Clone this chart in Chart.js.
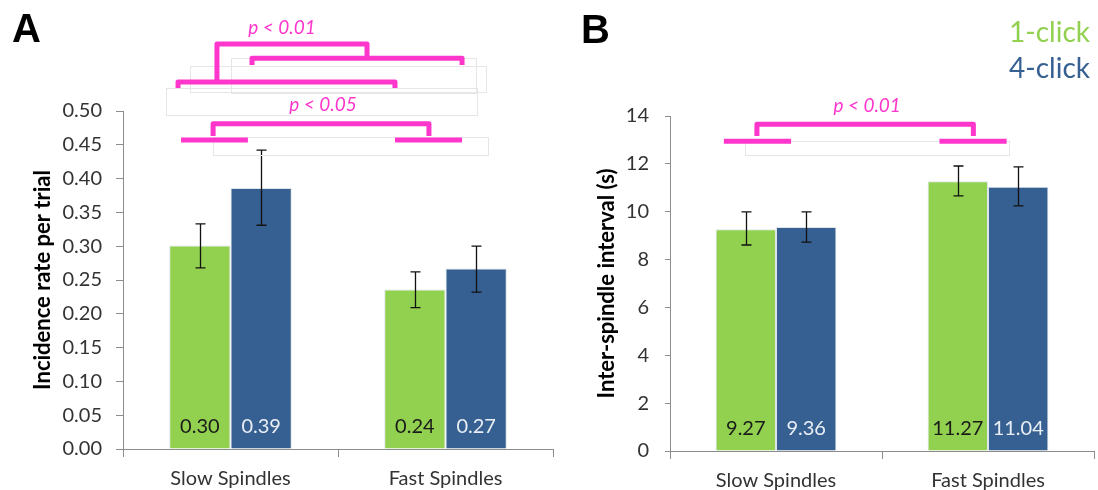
<!DOCTYPE html>
<html>
<head>
<meta charset="utf-8">
<script src="https://cdn.jsdelivr.net/npm/chart.js@4.4.0/dist/chart.umd.min.js"></script>
<style>
    body { margin: 0; background: #fff; width: 1098px; height: 490px; overflow: hidden; position: relative; }
    #chartA { position: absolute; left: 0; top: 0; }
    #chartB { position: absolute; left: 560px; top: 0; }
</style>
</head>
<body>
<canvas id="chartA" width="560" height="490"></canvas>
<canvas id="chartB" width="538" height="490"></canvas>
<script>
// Categories and series
const categories = ["Slow Spindles", "Fast Spindles"];
const seriesNames = ["1-click", "4-click"];

// Panel A: incidence rate per trial
const rateOneClick = [0.301, 0.236];
const rateFourClick = [0.386, 0.267];
const rateOneClickErr = [[0.268, 0.333], [0.209, 0.262]];
const rateFourClickErr = [[0.331, 0.442], [0.232, 0.300]];

// Panel B: inter-spindle interval (s)
const intervalOneClick = [9.27, 11.27];
const intervalFourClick = [9.36, 11.04];
const intervalOneClickErr = [[8.61, 9.99], [10.66, 11.91]];
const intervalFourClickErr = [[8.73, 9.99], [10.24, 11.87]];

// Significance brackets: [category position, value] points
const bracketsA = [
    [[-0.063, 0.546], [-0.063, 0.599], [0.635, 0.599], [0.635, 0.578]],
    [[0.1, 0.568], [0.1, 0.578], [1.077, 0.578], [1.077, 0.568]],
    [[-0.244, 0.534], [-0.244, 0.543], [0.765, 0.543], [0.765, 0.534]],
    [[-0.081, 0.463], [-0.081, 0.481], [0.923, 0.481], [0.923, 0.463]],
    [[-0.23, 0.457], [0.081, 0.457]],
    [[0.765, 0.457], [1.077, 0.457]],
];
const pLabelsA = [["p < 0.01", 0.24, 0.623], ["p < 0.05", 0.43, 0.509]];
const boxesA = [
    [0, 0.578, 1.143, 0.527],
    [-0.188, 0.567, 1.188, 0.528],
    [-0.3, 0.534, 1.147, 0.494],
    [-0.081, 0.4615, 1.198, 0.435],
];
const bracketsB = [
    [[-0.09, 13.16], [-0.09, 13.66], [0.931, 13.66], [0.931, 13.16]],
    [[-0.246, 12.95], [0.071, 12.95]],
    [[0.771, 12.95], [1.088, 12.95]],
];
const pLabelsB = [["p < 0.01", 0.43, 14.42]];
const boxesB = [[-0.147, 12.95, 1.097, 12.37]];

const GREEN = "#92d050";
const BLUE = "#376092";
const PINK = "#ff36cc";

Chart.defaults.font.family = "Lato, 'Open Sans', sans-serif";

// Погрешности
const errorBars = {
    id: "errorBars",
    afterDatasetsDraw(chart) {
        const ctx = chart.ctx;
        const y = chart.scales.y;
        ctx.save();
        ctx.strokeStyle = "#111";
        ctx.lineWidth = 1.3;
        chart.data.datasets.forEach((ds, i) => {
            chart.getDatasetMeta(i).data.forEach((bar, j) => {
                const lo = y.getPixelForValue(ds.errors[j][0]);
                const hi = y.getPixelForValue(ds.errors[j][1]);
                const x = Math.round(bar.x) + 0.5;
                ctx.beginPath();
                ctx.moveTo(x, lo); ctx.lineTo(x, hi);
                ctx.moveTo(x - 5, lo); ctx.lineTo(x + 5, lo);
                ctx.moveTo(x - 5, hi); ctx.lineTo(x + 5, hi);
                ctx.stroke();
            });
        });
        ctx.restore();
    },
};

// Подписи значений внутри столбцов
const valueLabels = {
    id: "valueLabels",
    afterDatasetsDraw(chart) {
        const ctx = chart.ctx;
        const base = chart.scales.y.getPixelForValue(0);
        ctx.save();
        ctx.font = "20px Lato, sans-serif";
        ctx.textAlign = "center";
        ctx.textBaseline = "alphabetic";
        chart.data.datasets.forEach((ds, i) => {
            ctx.fillStyle = ds.labelColor;
            chart.getDatasetMeta(i).data.forEach((bar, j) => {
                ctx.fillText(ds.data[j].toFixed(2), bar.x, base - 16);
            });
        });
        ctx.restore();
    },
};

// Скобки значимости
const brackets = {
    id: "brackets",
    afterDraw(chart, args, opts) {
        const ctx = chart.ctx;
        const xs = chart.scales.x, ys = chart.scales.y;
        const x0 = xs.getPixelForValue(0), x1 = xs.getPixelForValue(1);
        const px = (u) => x0 + u * (x1 - x0);
        const py = (v) => ys.getPixelForValue(v);
        ctx.save();
        ctx.strokeStyle = "#e6e6e6";
        ctx.lineWidth = 1;
        opts.boxes.forEach((b) => {
            const l = Math.round(px(b[0])) + 0.5, t = Math.round(py(b[1])) + 0.5;
            const r = Math.round(px(b[2])) + 0.5, bt = Math.round(py(b[3])) + 0.5;
            ctx.strokeRect(l, t, r - l, bt - t);
        });
        ctx.strokeStyle = PINK;
        ctx.lineWidth = 5;
        ctx.lineJoin = "round";
        opts.lines.forEach((pts) => {
            ctx.beginPath();
            pts.forEach((p, k) => {
                if (k === 0) ctx.moveTo(px(p[0]), py(p[1]));
                else ctx.lineTo(px(p[0]), py(p[1]));
            });
            ctx.stroke();
        });
        ctx.fillStyle = PINK;
        ctx.font = "italic 19px Lato, sans-serif";
        ctx.textAlign = "center";
        ctx.textBaseline = "middle";
        opts.texts.forEach((t) => ctx.fillText(t[0], px(t[1]), py(t[2])));
        ctx.restore();
    },
};

// Буквы панелей и легенда
const panelText = {
    id: "panelText",
    afterDraw(chart, args, opts) {
        const ctx = chart.ctx;
        ctx.save();
        ctx.textBaseline = "alphabetic";
        opts.items.forEach((it) => {
            ctx.font = it.font;
            ctx.fillStyle = it.color;
            ctx.textAlign = it.align || "left";
            ctx.fillText(it.text, it.x, it.y);
        });
        ctx.restore();
    },
};

function makeChart(id, cfg) {
    return new Chart(document.getElementById(id).getContext("2d"), {
        type: "bar",
        data: {
            labels: categories,
            datasets: [
                {
                    label: seriesNames[0],
                    data: cfg.one,
                    errors: cfg.oneErr,
                    labelColor: "#1a1a1a",
                    backgroundColor: GREEN,
                    borderColor: "#dfe4ea",
                    borderWidth: 1,
                    categoryPercentage: 0.57,
                    barPercentage: 1,
                },
                {
                    label: seriesNames[1],
                    data: cfg.four,
                    errors: cfg.fourErr,
                    labelColor: "#e9eef5",
                    backgroundColor: BLUE,
                    borderColor: "#dfe4ea",
                    borderWidth: 1,
                    categoryPercentage: 0.57,
                    barPercentage: 1,
                },
            ],
        },
        options: {
            responsive: false,
            animation: false,
            layout: { padding: { top: cfg.top, right: cfg.right, left: 0, bottom: 0 } },
            plugins: {
                legend: { display: false },
                tooltip: { enabled: false },
                brackets: { lines: cfg.lines, texts: cfg.texts, boxes: cfg.boxes },
                panelText: { items: cfg.items },
            },
            scales: {
                x: {
                    grid: {
                        drawOnChartArea: false,
                        color: "#8c8c8c",
                        tickLength: 8,
                        offset: true,
                    },
                    border: { color: "#8c8c8c" },
                    ticks: { color: "#333", font: { size: 20 }, padding: 10 },
                    afterFit: (s) => { s.height = cfg.xHeight; },
                },
                y: {
                    min: cfg.min,
                    max: cfg.max,
                    grid: {
                        drawOnChartArea: false,
                        color: "#8c8c8c",
                        tickLength: cfg.tick,
                    },
                    border: { color: "#8c8c8c" },
                    ticks: {
                        stepSize: cfg.step,
                        color: "#333",
                        font: { size: 20 },
                        padding: cfg.tickPad,
                        callback: (v) => cfg.fmt(v),
                    },
                    title: {
                        display: true,
                        text: cfg.title,
                        color: "#000",
                        font: { size: 22, weight: "bold" },
                        padding: { top: cfg.titlePad, bottom: 0 },
                    },
                    afterFit: (s) => { s.width = cfg.yWidth; },
                },
            },
        },
        plugins: [errorBars, valueLabels, brackets, panelText],
    });
}

document.addEventListener("DOMContentLoaded", function () {
    makeChart("chartA", {
        one: rateOneClick, four: rateFourClick,
        oneErr: rateOneClickErr, fourErr: rateFourClickErr,
        min: 0, max: 0.5, step: 0.05, fmt: (v) => v.toFixed(2),
        title: "Incidence rate per trial",
        top: 111, right: 7, xHeight: 41, yWidth: 123, tick: 7, tickPad: 14, titlePad: 30,
        lines: bracketsA, texts: pLabelsA, boxes: boxesA,
        items: [{ text: "A", x: 12, y: 42, font: "bold 40px 'Liberation Sans', Arial, sans-serif", color: "#000" }],
    });
    makeChart("chartB", {
        one: intervalOneClick, four: intervalFourClick,
        oneErr: intervalOneClickErr, fourErr: intervalFourClickErr,
        min: 0, max: 14, step: 2, fmt: (v) => String(v),
        title: "Inter-spindle interval (s)",
        top: 116, right: 4, xHeight: 39, yWidth: 110, tick: 5, tickPad: 16, titlePad: 34,
        lines: bracketsB, texts: pLabelsB, boxes: boxesB,
        items: [
            { text: "B", x: 21, y: 43, font: "bold 40px 'Liberation Sans', Arial, sans-serif", color: "#000" },
            { text: seriesNames[0], x: 530, y: 42, align: "right", font: "28px Lato, sans-serif", color: GREEN },
            { text: seriesNames[1], x: 530, y: 78, align: "right", font: "28px Lato, sans-serif", color: BLUE },
        ],
    });
});
</script>
</body>
</html>
